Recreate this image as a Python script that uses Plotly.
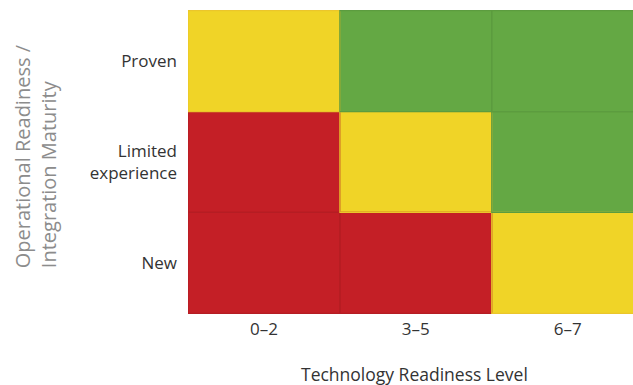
import plotly.graph_objects as go

# Readiness matrix: technology readiness (columns) vs operational maturity (rows)
trl_levels = ["0–2", "3–5", "6–7"]
maturity_levels = ["New", "Limited<br>experience", "Proven"]
# 0 = red (high risk), 1 = yellow (medium), 2 = green (low risk)
risk_new = [0, 0, 1]
risk_limited = [0, 1, 2]
risk_proven = [1, 2, 2]

fill_colors = ["#C41F26", "#F0D427", "#64A844"]
edge_colors = ["#B51D23", "#EBC62B", "#5C9C3F"]

z = [risk_new, risk_limited, risk_proven]

fig = go.Figure(go.Heatmap(
    z=z,
    x=trl_levels,
    y=maturity_levels,
    zmin=0, zmax=2,
    colorscale=[[0, fill_colors[0]], [0.333, fill_colors[0]],
                [0.333, fill_colors[1]], [0.667, fill_colors[1]],
                [0.667, fill_colors[2]], [1, fill_colors[2]]],
    showscale=False,
    hoverinfo="skip",
))

# Thin, slightly darker outline around each cell
for r, row in enumerate(z):
    for c, v in enumerate(row):
        fig.add_shape(type="rect", xref="x", yref="y",
                      x0=c - 0.5, x1=c + 0.5, y0=r - 0.5, y1=r + 0.5,
                      line=dict(color=edge_colors[v], width=1.2),
                      fillcolor="rgba(0,0,0,0)", layer="above")

fig.add_annotation(
    text="Operational Readiness /<br>Integration Maturity",
    textangle=-90, align="left",
    xref="paper", yref="paper", x=-0.405, y=0.145,
    xanchor="left", yanchor="bottom", showarrow=False,
    font=dict(family="Open Sans", size=20, color="#8C8C8C"),
)

# x-axis title, centred under the full (slightly cropped) grid
fig.add_annotation(
    text="Technology Readiness Level",
    xref="paper", yref="paper", x=0.508, y=-0.197,
    xanchor="center", yanchor="middle", showarrow=False,
    font=dict(family="Open Sans", size=17.5, color="#333333"),
)

fig.update_layout(
    width=633, height=385,
    margin=dict(l=188, r=0, t=10, b=71),
    paper_bgcolor="white", plot_bgcolor="white",
    font=dict(family="Open Sans", size=17, color="#333333"),
    xaxis=dict(
        range=[-0.5, 2.43],
        showgrid=False, zeroline=False, ticks="", ticklen=0,
        ticklabelstandoff=3,
    ),
    yaxis=dict(showgrid=False, zeroline=False, ticks="", ticklen=0,
               ticklabelstandoff=10),
)

fig.write_html("out.html")
